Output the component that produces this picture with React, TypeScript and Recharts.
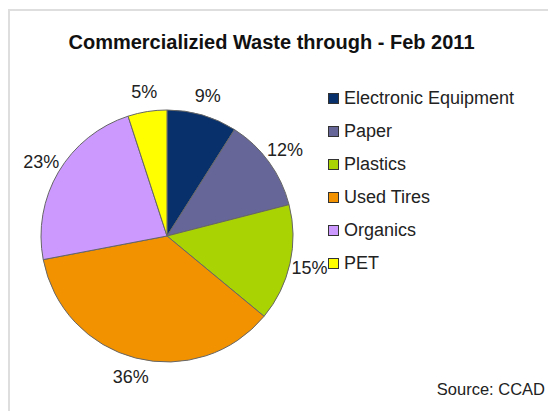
import React from 'react';
import { PieChart, Pie, Cell } from 'recharts';

const categories = ['Electronic Equipment', 'Paper', 'Plastics', 'Used Tires', 'Organics', 'PET'];
const shares = [9, 12, 15, 36, 23, 5];
const colors = ['#08306a', '#666699', '#aad304', '#f39200', '#cc99ff', '#ffff00'];
const title = 'Commercializied Waste through - Feb 2011';
const source = 'Source: CCAD';

const data = categories.map((name, i) => ({ name, value: shares[i] }));

const FONT = '"Liberation Sans", Arial, sans-serif';
const RAD = Math.PI / 180;

const renderLabel = (props: any) => {
  const { cx, cy, midAngle, outerRadius, value } = props;
  const r = outerRadius + 20;
  const x = cx + r * Math.cos(-midAngle * RAD);
  const y = cy + r * Math.sin(-midAngle * RAD);
  return (
    <text x={x} y={y} textAnchor="middle" dominantBaseline="central" fill="#222" fontSize={18} fontFamily={FONT}>
      {`${value}%`}
    </text>
  );
};

function LegendBox() {
  return (
    <div style={{ position: 'absolute', left: 328, top: 82, fontFamily: FONT, fontSize: 18, color: '#222' }}>
      {categories.map((name, i) => (
        <div key={name} style={{ display: 'flex', alignItems: 'center', height: 33 }}>
          <span style={{ display: 'inline-block', width: 9, height: 9, background: colors[i], border: '1.5px solid #333', marginRight: 5 }} />
          <span>{name}</span>
        </div>
      ))}
    </div>
  );
}

export default function App() {
  return (
    <div style={{ position: 'absolute', left: 0, top: 0, width: 548, height: 411, overflow: 'hidden', background: '#fff' }}>
      <div style={{ position: 'absolute', left: 8, top: 9, width: 560, height: 430, border: '2px solid #dedede' }} />
      <div style={{ position: 'absolute', left: 0, width: 543, top: 29, textAlign: 'center', fontFamily: FONT, fontWeight: 'bold', fontSize: 20, color: '#111', lineHeight: '26px' }}>
        {title}
      </div>
      <div style={{ position: 'absolute', left: 0, top: 0 }}>
        <PieChart width={548} height={411} margin={{ top: 0, right: 0, bottom: 0, left: 0 }}>
          <Pie
            data={data}
            dataKey="value"
            nameKey="name"
            cx={167}
            cy={236}
            outerRadius={126}
            startAngle={90}
            endAngle={-270}
            stroke="#666666"
            strokeWidth={1}
            label={renderLabel}
            labelLine={false}
            isAnimationActive={false}
          >
            {data.map((d, i) => (
              <Cell key={d.name} fill={colors[i]} />
            ))}
          </Pie>
        </PieChart>
      </div>
      <LegendBox />
      <div style={{ position: 'absolute', left: 380, width: 165, top: 379, textAlign: 'right', fontFamily: FONT, fontSize: 16.5, color: '#222', lineHeight: '20px' }}>
        {source}
      </div>
    </div>
  );
}
